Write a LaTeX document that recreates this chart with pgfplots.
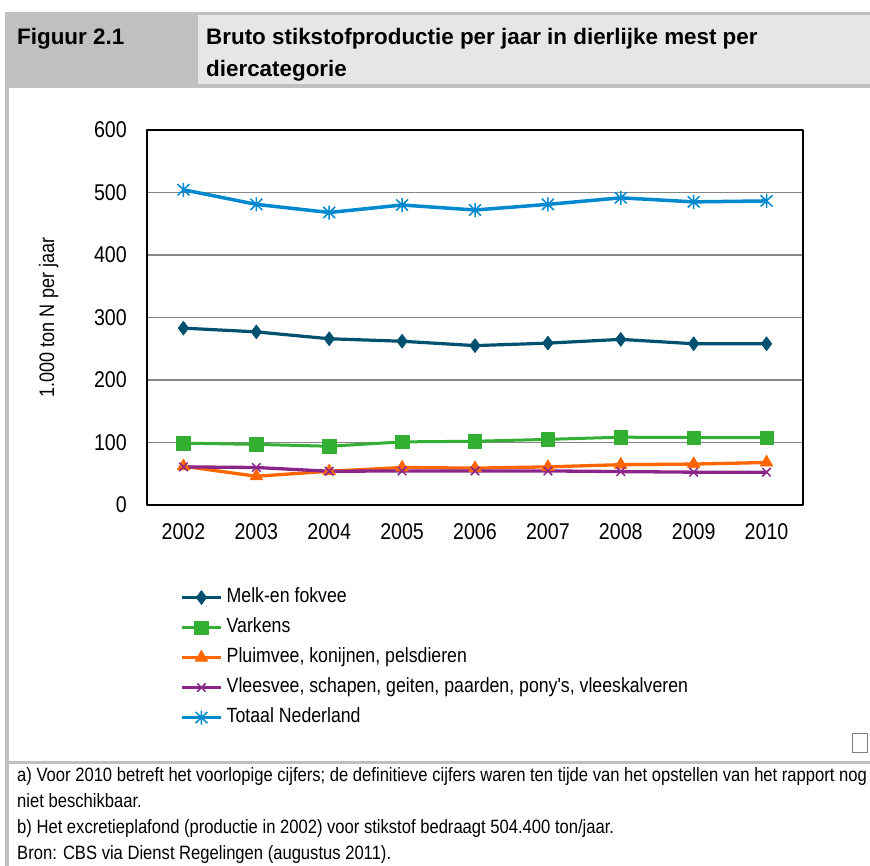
\documentclass[border=0pt]{standalone}
\usepackage{fontspec}
\setmainfont{Liberation Sans}
\newfontfamily\narrow[FakeStretch=0.86]{Liberation Sans}
\usepackage{pgfplots}
\pgfplotsset{compat=1.18}

\definecolor{melk}{RGB}{0,80,112}
\definecolor{varkens}{RGB}{51,176,51}
\definecolor{pluim}{RGB}{255,102,0}
\definecolor{vlees}{RGB}{138,38,138}
\definecolor{totaal}{RGB}{0,137,207}
\definecolor{banddark}{RGB}{192,192,192}
\definecolor{bandlight}{RGB}{230,230,230}
\definecolor{gridgray}{RGB}{134,134,134}

% star marker: vertical bar plus a diagonal cross
\pgfdeclareplotmark{xlstar}{%
  \pgfpathmoveto{\pgfqpoint{0pt}{\pgfplotmarksize}}%
  \pgfpathlineto{\pgfqpoint{0pt}{-\pgfplotmarksize}}%
  \pgfpathmoveto{\pgfqpoint{-.85\pgfplotmarksize}{-.8\pgfplotmarksize}}%
  \pgfpathlineto{\pgfqpoint{.85\pgfplotmarksize}{.8\pgfplotmarksize}}%
  \pgfpathmoveto{\pgfqpoint{-.85\pgfplotmarksize}{.8\pgfplotmarksize}}%
  \pgfpathlineto{\pgfqpoint{.85\pgfplotmarksize}{-.8\pgfplotmarksize}}%
  \pgfusepathqstroke}

\begin{document}
\begin{tikzpicture}
\useasboundingbox (0pt,0pt) rectangle (870pt,-866pt);

% header bands and frame of the figure box
\fill[banddark] (5pt,-12pt) rectangle (870pt,-88pt);
\fill[bandlight] (198pt,-15pt) rectangle (870pt,-84pt);
\fill[banddark] (5pt,-88pt) rectangle (9pt,-866pt);
\fill[banddark] (5pt,-761pt) rectangle (870pt,-764pt);
\draw[gray, line width=1pt] (852.5pt,-733.5pt) rectangle (867.5pt,-752.5pt);

\begin{scope}[every node/.style={inner sep=0pt, anchor=base west}]
\node[font=\bfseries\fontsize{22.4}{26}\selectfont] at (17pt,-44.5pt) {Figuur 2.1};
\node[font=\bfseries\fontsize{22.4}{26}\selectfont] at (206pt,-44.5pt) {Bruto stikstofproductie per jaar in dierlijke mest per};
\node[font=\bfseries\fontsize{22.4}{26}\selectfont] at (206pt,-76.5pt) {diercategorie};

\node[font=\narrow\fontsize{19.3}{23}\selectfont] at (17pt,-781.7pt) {a) Voor 2010 betreft het voorlopige cijfers; de definitieve cijfers waren ten tijde van het opstellen van het rapport nog};
\node[font=\narrow\fontsize{19.3}{23}\selectfont] at (17pt,-807.3pt) {niet beschikbaar.};
\node[font=\narrow\fontsize{19.3}{23}\selectfont] at (17pt,-833.3pt) {b) Het excretieplafond (productie in 2002) voor stikstof bedraagt 504.400 ton/jaar.};
\node[font=\narrow\fontsize{19.3}{23}\selectfont] at (17pt,-859pt) {Bron: CBS via Dienst Regelingen (augustus 2011).};
\end{scope}

\begin{axis}[
  at={(147pt,-505pt)}, anchor=south west,
  scale only axis, width=656pt, height=375pt,
  xmin=2001.5, xmax=2010.5, ymin=0, ymax=600,
  xtick={2002,2003,...,2010}, ytick={0,100,...,600},
  major tick length=0pt,
  ymajorgrids, grid style={draw=gridgray, line width=1.2pt},
  axis line style={black, line width=1.2pt},
  /pgf/number format/1000 sep={},
  /pgf/number format/assume math mode=true,
  tick label style={font=\narrow\fontsize{22.8}{26}\selectfont, inner sep=0pt},
  xticklabel style={anchor=north, yshift=-18pt},
  yticklabel style={anchor=east, xshift=-20pt},
  ylabel={1.000 ton N per jaar},
  ylabel style={font=\narrow\fontsize{21}{24}\selectfont, inner sep=0pt, at={(axis description cs:-0.150,0.5)}, anchor=center},
  legend cell align=left,
  legend image code/.code={\draw[mark repeat=2,mark phase=2] plot coordinates {(0pt,0pt) (19.5pt,0pt) (39pt,0pt)};},
  legend style={at={(axis description cs:0.0503,-0.2208)}, anchor=north west,
    draw=none, fill=none, inner sep=0pt, row sep=10.9pt, column sep=4pt,
    font=\narrow\fontsize{20.6}{24}\selectfont,
    nodes={inner sep=0pt, text height=14.8pt, text depth=4.3pt}},
  line join=round,
]
\addplot[melk, line width=3.2pt, mark=diamond*, mark size=7pt, mark options={fill=melk, line width=0.6pt}]
  coordinates {(2002,283) (2003,277) (2004,266) (2005,262) (2006,255) (2007,259) (2008,265) (2009,258) (2010,258)};
\addlegendentry{Melk-en fokvee}
\addplot[varkens, line width=3pt, mark=square*, mark size=6.7pt, mark options={fill=varkens, line width=0.6pt}]
  coordinates {(2002,99) (2003,97) (2004,94) (2005,101) (2006,102) (2007,105) (2008,108.5) (2009,108) (2010,108)};
\addlegendentry{Varkens}
\addplot[pluim, line width=3.3pt, mark=triangle*, mark size=7.3pt, mark options={fill=pluim, line width=0.6pt}]
  coordinates {(2002,62) (2003,46) (2004,54) (2005,60) (2006,59) (2007,61) (2008,64.5) (2009,65.5) (2010,68)};
\addlegendentry{Pluimvee, konijnen, pelsdieren}
\addplot[vlees, line width=3.3pt, mark=x, mark size=6pt, mark options={line width=1.5pt}]
  coordinates {(2002,61) (2003,60) (2004,54) (2005,54.5) (2006,54.5) (2007,54.5) (2008,53.5) (2009,52.5) (2010,52.5)};
\addlegendentry{Vleesvee, schapen, geiten, paarden, pony's, vleeskalveren}
\addplot[totaal, line width=3.5pt, mark=xlstar, mark size=7pt, mark options={line width=1.5pt}]
  coordinates {(2002,504.4) (2003,481) (2004,468) (2005,480) (2006,472) (2007,481) (2008,491.5) (2009,485) (2010,486.5)};
\addlegendentry{Totaal Nederland}
\end{axis}
\end{tikzpicture}
\end{document}
